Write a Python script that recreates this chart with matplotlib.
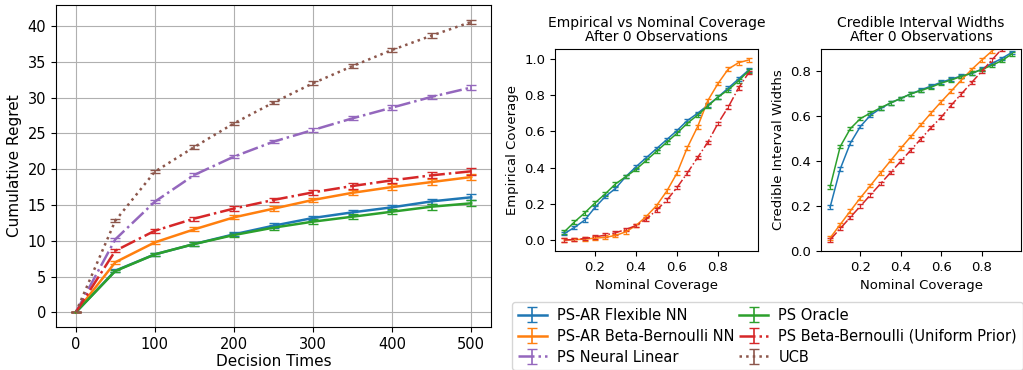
import numpy as np
import matplotlib
matplotlib.use("Agg")
import matplotlib.pyplot as plt

# ---- regret data ----
times = [0, 50, 100, 150, 200, 250, 300, 350, 400, 450, 500]

regret_flex = [0, 5.82, 8.1, 9.55, 10.9, 12.1, 13.18, 13.97, 14.67, 15.5, 16.07]
regret_bb_nn = [0, 7.0, 9.78, 11.6, 13.27, 14.48, 15.7, 16.7, 17.5, 18.2, 18.9]
regret_nlin = [0, 10.2, 15.46, 19.2, 21.75, 23.84, 25.47, 27.1, 28.6, 30.1, 31.4]
regret_oracle = [0, 5.77, 8.1, 9.55, 10.8, 11.83, 12.67, 13.36, 14.06, 14.76, 15.23]
regret_bb_unif = [0, 8.6, 11.4, 13.1, 14.5, 15.7, 16.76, 17.65, 18.44, 19.14, 19.7]
regret_ucb = [0, 12.8, 19.65, 23.1, 26.4, 29.3, 32.0, 34.4, 36.65, 38.65, 40.56]

err_flex = [0, 0.2, 0.25, 0.28, 0.3, 0.32, 0.34, 0.36, 0.38, 0.4, 0.42]
err_bb_nn = [0, 0.2, 0.25, 0.28, 0.3, 0.32, 0.34, 0.36, 0.38, 0.4, 0.42]
err_nlin = [0, 0.2, 0.2, 0.22, 0.24, 0.25, 0.26, 0.28, 0.3, 0.3, 0.32]
err_oracle = [0, 0.2, 0.25, 0.28, 0.3, 0.32, 0.34, 0.36, 0.38, 0.4, 0.42]
err_bb_unif = [0, 0.2, 0.25, 0.28, 0.3, 0.32, 0.34, 0.36, 0.38, 0.4, 0.45]
err_ucb = [0, 0.2, 0.2, 0.22, 0.24, 0.25, 0.26, 0.28, 0.3, 0.3, 0.32]

# ---- coverage data ----
nominal = [0.05, 0.10, 0.15, 0.20, 0.25, 0.30, 0.35, 0.40, 0.45, 0.50,
           0.55, 0.60, 0.65, 0.70, 0.75, 0.80, 0.85, 0.90, 0.95]

cov_flex = [0.035, 0.07, 0.11, 0.18, 0.24, 0.285, 0.35, 0.405, 0.455, 0.505,
            0.555, 0.605, 0.66, 0.70, 0.745, 0.79, 0.84, 0.89, 0.94]
cov_bb_nn = [0.0, 0.002, 0.005, 0.01, 0.015, 0.025, 0.045, 0.08, 0.13, 0.19,
             0.27, 0.37, 0.51, 0.625, 0.77, 0.865, 0.945, 0.98, 0.995]
cov_oracle = [0.045, 0.10, 0.15, 0.205, 0.255, 0.31, 0.35, 0.39, 0.44, 0.49,
              0.54, 0.59, 0.645, 0.69, 0.74, 0.79, 0.83, 0.88, 0.935]
cov_bb_unif = [0.0, 0.003, 0.008, 0.017, 0.027, 0.04, 0.058, 0.08, 0.115, 0.165,
               0.22, 0.29, 0.37, 0.455, 0.54, 0.645, 0.735, 0.84, 0.925]

width_flex = [0.195, 0.365, 0.48, 0.555, 0.605, 0.635, 0.66, 0.68, 0.70, 0.718,
              0.735, 0.752, 0.766, 0.78, 0.79, 0.81, 0.835, 0.858, 0.885]
width_bb_nn = [0.058, 0.118, 0.178, 0.237, 0.292, 0.348, 0.403, 0.458, 0.51, 0.563,
               0.615, 0.665, 0.713, 0.762, 0.808, 0.85, 0.89, 0.93, 0.97]
width_oracle = [0.285, 0.465, 0.545, 0.59, 0.615, 0.638, 0.66, 0.68, 0.70, 0.715,
                0.73, 0.748, 0.762, 0.778, 0.792, 0.808, 0.827, 0.848, 0.878]
width_bb_unif = [0.05, 0.10, 0.15, 0.20, 0.25, 0.30, 0.35, 0.40, 0.45, 0.50,
                 0.55, 0.596, 0.65, 0.70, 0.75, 0.80, 0.85, 0.90, 0.95]

cov_err = 0.01
width_err = 0.008

labels = ["PS-AR Flexible NN", "PS-AR Beta-Bernoulli NN", "PS Neural Linear",
          "PS Oracle", "PS Beta-Bernoulli (Uniform Prior)", "UCB"]
colors = ["tab:blue", "tab:orange", "tab:purple", "tab:green", "tab:red", "tab:brown"]
styles = ["-", "-", "-.", "-", "-.", ":"]

fig = plt.figure(figsize=(10.23, 3.7), dpi=100)
W, H = 1023, 370
ax1 = fig.add_axes([56 / W, 1 - 327 / H, 435 / W, 322 / H])
ax2 = fig.add_axes([555 / W, 1 - 251 / H, 203 / W, 202 / H])
ax3 = fig.add_axes([821 / W, 1 - 251 / H, 200 / W, 202 / H])

# left: cumulative regret
reg = [regret_flex, regret_bb_nn, regret_nlin, regret_oracle, regret_bb_unif, regret_ucb]
errs = [err_flex, err_bb_nn, err_nlin, err_oracle, err_bb_unif, err_ucb]
handles = []
for y, e, lab, c, ls in zip(reg, errs, labels, colors, styles):
    h = ax1.errorbar(times, y, yerr=e, label=lab, color=c, linestyle=ls,
                     linewidth=1.8, capsize=3.5, elinewidth=1.2)
    handles.append(h)
ax1.set_xlabel("Decision Times", fontsize=11, labelpad=2)
ax1.set_ylabel("Cumulative Regret", fontsize=11)
ax1.tick_params(labelsize=10.5)
ax1.grid(True)

# middle / right: coverage and widths
idx = [0, 1, 3, 4]
cov = [cov_flex, cov_bb_nn, cov_oracle, cov_bb_unif]
wid = [width_flex, width_bb_nn, width_oracle, width_bb_unif]
for k, i in enumerate(idx):
    ax2.errorbar(nominal, cov[k], yerr=cov_err, color=colors[i], linestyle=styles[i],
                 linewidth=1.1, capsize=2, elinewidth=0.8)
    ax3.errorbar(nominal, wid[k], yerr=width_err, color=colors[i], linestyle=styles[i],
                 linewidth=1.1, capsize=2, elinewidth=0.8)

ax2.set_title("Empirical vs Nominal Coverage\nAfter 0 Observations", fontsize=10,
              linespacing=1.0)
ax2.set_xlabel("Nominal Coverage", fontsize=9.5)
ax2.set_ylabel("Empirical Coverage", fontsize=9.5)
ax2.tick_params(labelsize=9.5)

ax3.set_title("Credible Interval Widths\nAfter 0 Observations", fontsize=10,
              linespacing=1.0)
ax3.set_xlabel("Nominal Coverage", fontsize=9.5)
ax3.set_ylabel("Credible Interval Widths", fontsize=9.5)
ax3.set_ylim(0, 0.9)
ax3.tick_params(labelsize=9.5)

fig.legend(handles=handles, labels=labels, loc="upper left", ncol=2,
           bbox_to_anchor=(512 / W, 1 - 302 / H), fontsize=10.5,
           labelspacing=0.4, columnspacing=0.3, handletextpad=0.7,
           borderaxespad=0)

fig.savefig("out.png", dpi=100)
